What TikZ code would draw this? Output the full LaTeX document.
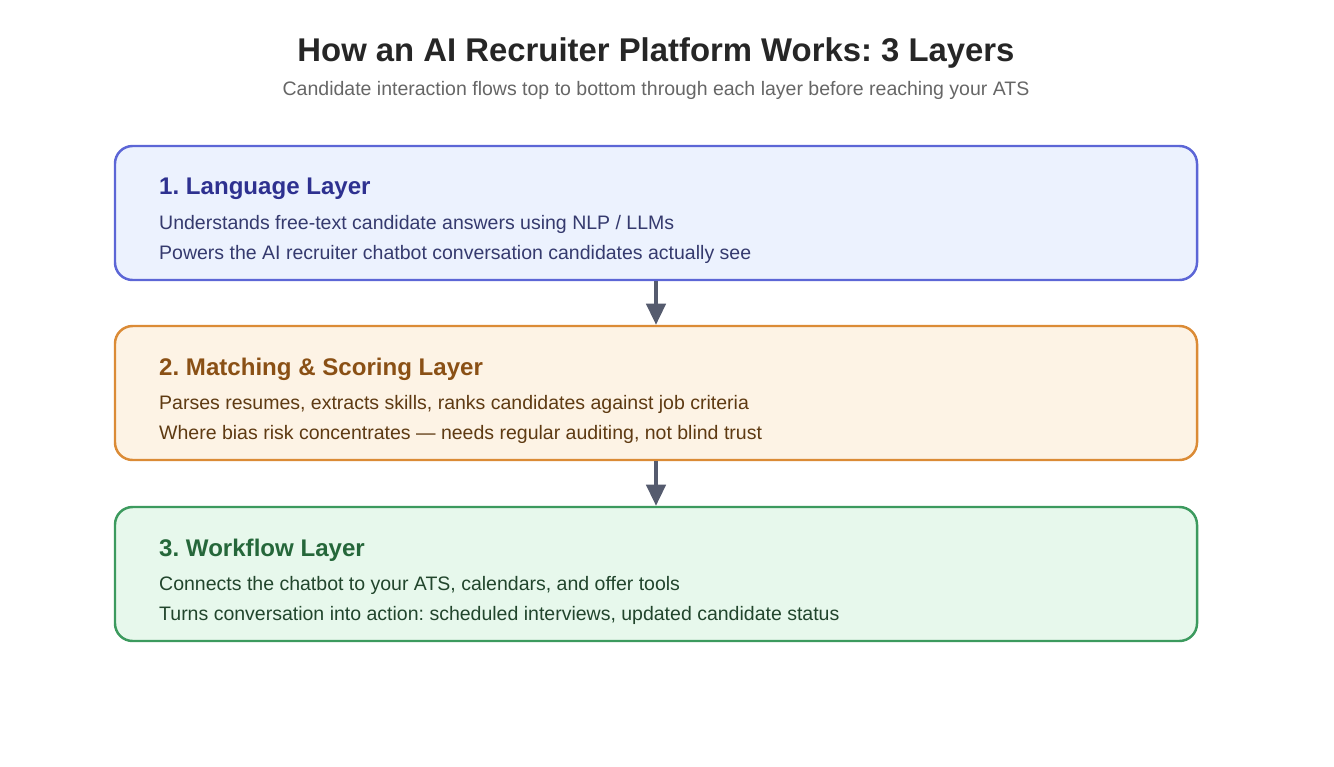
\documentclass[tikz,border=0pt]{standalone}
\usepackage{fontspec}
\setmainfont{Liberation Sans}
\frenchspacing
\usetikzlibrary{positioning,arrows.meta}
\definecolor{bluebd}{HTML}{5C66D6}\definecolor{bluefl}{HTML}{ECF2FE}\definecolor{bluetx}{HTML}{2E3190}\definecolor{bluebody}{HTML}{353A6E}
\definecolor{orabd}{HTML}{DB8B36}\definecolor{orafl}{HTML}{FDF3E5}\definecolor{oratx}{HTML}{8A5015}\definecolor{orabody}{HTML}{5E3A12}
\definecolor{grnbd}{HTML}{3C9A5E}\definecolor{grnfl}{HTML}{E7F8EC}\definecolor{grntx}{HTML}{25673A}\definecolor{grnbody}{HTML}{21452C}
\definecolor{arr}{HTML}{555B6E}
\tikzset{
  layer/.style={draw=#1bd, fill=#1fl, line width=1.4pt, rounded corners=10pt,
    minimum width=21.64cm, minimum height=2.68cm},
  head/.style={anchor=west, font=\fontsize{13.7}{15}\selectfont\bfseries, text=#1tx},
  body/.style={anchor=west, font=\fontsize{11.1}{13}\selectfont, text=#1body},
  flow/.style={-{Triangle[width=11pt,length=12pt]}, arr, line width=2pt}
}
\begin{document}
\begin{tikzpicture}
\useasboundingbox (0,0) rectangle (26.68,-15.32);

\node[font=\fontsize{18.7}{21}\selectfont\bfseries, text=black!85] (title) at (13.12,-1.06) {How an AI Recruiter Platform Works: 3 Layers};
\node[font=\fontsize{11.1}{13}\selectfont, text=black!60] (sub) at (13.12,-1.8) {Candidate interaction flows top to bottom through each layer before reaching your ATS};

\node[layer=blue] (l1) at (13.12,-4.26) {};
\node[layer=ora] (l2) at (13.12,-7.86) {};
\node[layer=grn] (l3) at (13.12,-11.48) {};

\node[head=blue] at (3.06,-3.78) {1. Language Layer};
\node[body=blue] at (3.06,-4.48) {Understands free-text candidate answers using NLP / LLMs};
\node[body=blue] at (3.06,-5.08) {Powers the AI recruiter chatbot conversation candidates actually see};

\node[head=ora] at (3.06,-7.38) {2. Matching \& Scoring Layer};
\node[body=ora] at (3.06,-8.08) {Parses resumes, extracts skills, ranks candidates against job criteria};
\node[body=ora] at (3.06,-8.68) {Where bias risk concentrates — needs regular auditing, not blind trust};

\node[head=grn] at (3.06,-11.00) {3. Workflow Layer};
\node[body=grn] at (3.06,-11.70) {Connects the chatbot to your ATS, calendars, and offer tools};
\node[body=grn] at (3.06,-12.30) {Turns conversation into action: scheduled interviews, updated candidate status};

\draw[flow] (l1.south) -- (l2.north);
\draw[flow] (l2.south) -- (l3.north);
\end{tikzpicture}
\end{document}
